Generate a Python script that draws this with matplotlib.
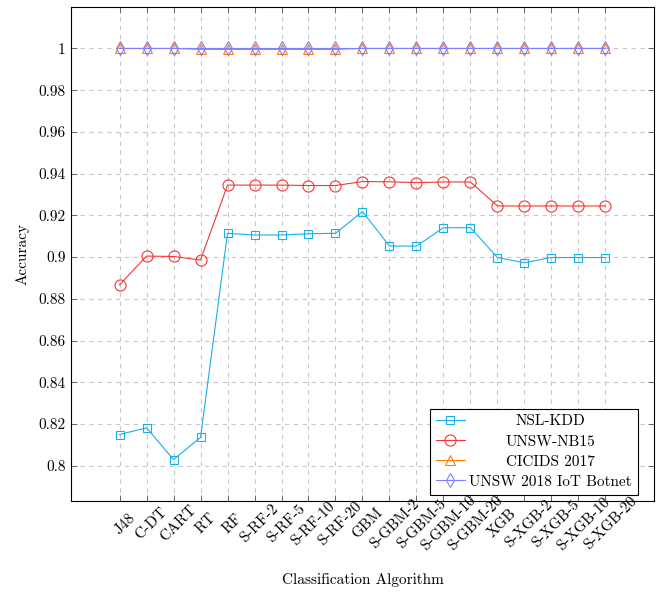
import numpy as np
import matplotlib
matplotlib.use("Agg")
import matplotlib.pyplot as plt
from matplotlib.transforms import Affine2D

plt.rcParams['font.family'] = 'serif'
plt.rcParams['font.serif'] = ['cmr10', 'DejaVu Serif']
plt.rcParams['mathtext.fontset'] = 'cm'
plt.rcParams['axes.formatter.use_mathtext'] = True
plt.rcParams['font.size'] = 11

algorithms = ['J48', 'C-DT', 'CART', 'RT', 'RF', 'S-RF-2', 'S-RF-5', 'S-RF-10',
              'S-RF-20', 'GBM', 'S-GBM-2', 'S-GBM-5', 'S-GBM-10', 'S-GBM-20',
              'XGB', 'S-XGB-2', 'S-XGB-5', 'S-XGB-10', 'S-XGB-20']

nsl_kdd = [0.8150, 0.8182, 0.8030, 0.8136, 0.9114, 0.9106, 0.9106, 0.9112,
           0.9114, 0.9218, 0.9053, 0.9053, 0.9141, 0.9141, 0.8998, 0.8973,
           0.8998, 0.8998, 0.8998]
unsw_nb15 = [0.8867, 0.9005, 0.9003, 0.8986, 0.9345, 0.9345, 0.9345, 0.9343,
             0.9343, 0.9362, 0.9361, 0.9357, 0.9360, 0.9360, 0.9245, 0.9245,
             0.9245, 0.9245, 0.9245]
cicids2017 = [1.0, 1.0, 1.0, 0.9995, 0.9995, 0.9995, 0.9995, 0.9995, 0.9995,
              1.0, 1.0, 1.0, 1.0, 1.0, 1.0, 1.0, 1.0, 1.0, 1.0]
unsw_iot = [1.0] * 19

yticks = np.arange(0.80, 1.001, 0.02)

fig = plt.figure(figsize=(6.59, 5.93), dpi=100)
ax = fig.add_axes([0.1077, 0.1557, 0.8847, 0.832])

x = np.arange(len(algorithms))
ax.plot(x, nsl_kdd, color='#1AAFE6', lw=0.8, marker='s', ms=5.5, mfc='none',
        mew=0.8, label='NSL-KDD')
ax.plot(x, unsw_nb15, color='#F53535', lw=0.8, marker='o', ms=8, mfc='none',
        mew=0.8, label='UNSW-NB15')
ax.plot(x, cicids2017, color='#FF8000', lw=0.8, marker='^', ms=7.5, mfc='none',
        mew=0.8, label='CICIDS 2017')
ax.plot(x, unsw_iot, color='#7F7FFF', lw=0.8, marker='d', ms=7, mfc='none',
        mew=0.8, label='UNSW 2018 IoT Botnet')

# pgfplots-style 10% enlargement of the data range
lo = min(nsl_kdd)
hi = 1.0
pad = 0.1 * (hi - lo)
ax.set_ylim(lo - pad, hi + pad)
ax.set_xlim(-0.1 * (len(x) - 1), (len(x) - 1) * 1.1)

ax.set_yticks(yticks)
ax.set_yticklabels(['{:g}'.format(round(v, 2)) for v in yticks])
ax.set_xticks(x)
ax.set_xticklabels(algorithms, rotation=45, ha='center', va='top',
                   rotation_mode='anchor')
ax.tick_params(direction='in', length=4, width=0.6, color='#555555',
               top=True, right=True, pad=4)
ax.tick_params(axis='x', pad=13)

ax.grid(True, color='#c8c8c8', lw=0.8, ls=(0, (4, 4)))
ax.set_axisbelow(True)
for s in ax.spines.values():
    s.set_linewidth(0.8)

ax.set_xlabel('Classification Algorithm', labelpad=14)
ax.set_ylabel('Accuracy', labelpad=6)

leg = ax.legend(loc='lower right', bbox_to_anchor=(0.9726, 0.0116),
                borderaxespad=0, fancybox=False, edgecolor='black',
                framealpha=1, handlelength=1.9, labelspacing=0.42,
                handletextpad=0.3, borderpad=0.4)
leg.get_frame().set_linewidth(0.8)

# center the legend entries the way pgfplots does
fig.canvas.draw()
r = fig.canvas.get_renderer()
texts = leg.get_texts()
widths = [t.get_window_extent(r).width for t in texts]
wmax = max(widths)
for t, w in zip(texts, widths):
    t.set_transform(t.get_transform() + Affine2D().translate((wmax - w) / 2, 0))

fig.savefig('out.png', dpi=100)
